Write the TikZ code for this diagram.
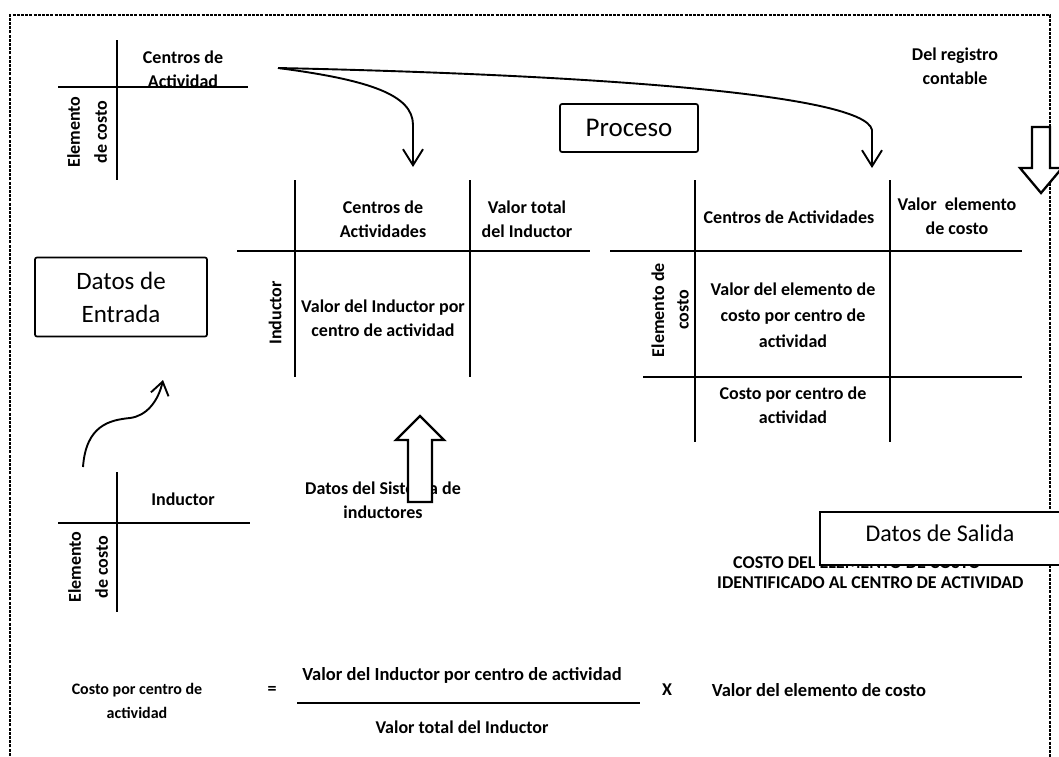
\documentclass[tikz,border=0pt]{standalone}
\usepackage{fontspec}
\setmainfont{Carlito}
\usetikzlibrary{arrows.meta}
\begin{document}
\begin{tikzpicture}[x=1pt,y=-1pt,
  grid/.style={line width=1.9pt},
  lbl/.style={font=\fontsize{18}{24.5}\selectfont\bfseries, align=center, inner sep=0pt},
  boxlbl/.style={font=\fontsize{25}{33}\selectfont, align=center},
  tbox/.style={draw, line width=1.7pt, fill=white, rounded corners=2pt, inner sep=0pt},
  conn/.style={line width=1.9pt, -{Straight Barb[length=16pt,width=20pt,line width=1.9pt]}},
  blockarr/.style={draw, line width=2.3pt, fill=white, line join=miter},
  border/.style={line width=1.6pt, dash pattern=on 3pt off 1.2pt}]
\useasboundingbox (0,0) rectangle (1059,756);

% outer dashed frame
\draw[border] (10,760) -- (10,15) -- (1050,15) -- (1050,760);

% ---- grid 1 (top-left)
\draw[grid] (117,40) -- (117,180);
\draw[grid] (58,87) -- (248,87);
\node[lbl] (g1h) at (183,69) {Centros de\\Actividad};
\node[lbl, rotate=90, font=\fontsize{18}{27}\selectfont\bfseries] (g1r) at (87,132) {Elemento\\de costo};

% ---- grid 2 (middle)
\draw[grid] (295,180) -- (295,377);
\draw[grid] (470,180) -- (470,377);
\draw[grid] (237,251) -- (590,251);
\node[lbl] (g2h1) at (383,219) {Centros de\\Actividades};
\node[lbl] (g2h2) at (527,219) {Valor total\\del Inductor};
\node[lbl] (g2b) at (383,318) {Valor del Inductor por\\centro de actividad};
\node[lbl, rotate=90] (g2r) at (275,313) {Inductor};

% ---- grid 3 (right)
\draw[grid] (695,180) -- (695,442);
\draw[grid] (890,180) -- (890,442);
\draw[grid] (610,251) -- (1022,251);
\draw[grid] (643,377) -- (1022,377);
\node[lbl] (g3h1) at (789,217) {Centros de Actividades};
\node[lbl] (g3h2) at (957,216) {Valor\ \ elemento\\de costo};
\node[lbl, font=\fontsize{18}{26}\selectfont\bfseries] (g3b) at (793,315) {Valor del elemento de\\costo por centro de\\actividad};
\node[lbl, rotate=90] (g3r) at (670,310) {Elemento de\\costo};
\node[lbl] (g3c) at (793,405) {Costo por centro de\\actividad};

% ---- labels top right
\node[lbl] (reg) at (955,66) {Del registro\\contable};
\node[tbox, boxlbl, font=\fontsize{27}{33}\selectfont, minimum width=138pt, minimum height=48pt] (proc) at (629,128) {Proceso};

% ---- right block arrow
\draw[blockarr] (1032,127) -- (1032,168) -- (1020,168) -- (1041,193) -- (1062,168) -- (1050,168) -- (1050,127) -- cycle;

% ---- curved connectors
\coordinate (src) at (278,68);
\coordinate (t1) at (413,167);
\coordinate (t2) at (872,168);
\draw[conn] (src) .. controls (370,80) and (413,95) .. (413,125) -- (t1);
\draw[conn] (src) .. controls (560,74) and (865,92) .. (872,130) -- (t2);

% ---- Datos de Entrada
\node[tbox, boxlbl, minimum width=172pt, minimum height=79pt] (ent) at (121,297) {Datos de\\Entrada};

% ---- wavy arrow
\coordinate (ws) at (83,467);
\coordinate (wt) at (163,380);
\draw[line width=1.9pt, -{Straight Barb[length=13pt,width=18pt,line width=1.9pt]}] (ws) .. controls (86,425) and (110,420) .. (130,418) .. controls (146,416) and (158,402) .. (wt);

% ---- grid 4 (bottom-left)
\draw[grid] (117,472) -- (117,612);
\draw[grid] (58,523) -- (250,523);
\node[lbl] (g4h) at (183,499) {Inductor};
\node[lbl, rotate=90, font=\fontsize{18}{27}\selectfont\bfseries] (g4r) at (88,567) {Elemento\\de costo};

% ---- Datos del sistema de inductores + block arrow
\node[lbl] (sis) at (383,500) {Datos del Sistema de\\inductores};
\draw[blockarr] (408,502) -- (408,440) -- (396,440) -- (420,416) -- (444,440) -- (432,440) -- (432,502) -- cycle;

% ---- Datos de salida
\node[lbl, anchor=west] (cs1) at (733,563) {COSTO DEL ELEMENTO DE COSTO};
\node[lbl, anchor=west] (cs2) at (717,583) {IDENTIFICADO AL CENTRO DE ACTIVIDAD};
\draw[line width=1.7pt, fill=white] (820,512) rectangle (1062,565);
\node[boxlbl, font=\fontsize{24}{30}\selectfont, inner sep=0pt] (sal) at (940,533) {Datos de Salida};

% ---- formula
\node[lbl, font=\fontsize{16}{24}\selectfont\bfseries] (fl) at (137,701) {Costo por centro de\\actividad};
\node[lbl] (eq) at (272,690) {=};
\node[lbl, font=\fontsize{18.5}{24}\selectfont\bfseries] (num) at (462,675) {Valor del Inductor por centro de actividad};
\coordinate (fa) at (297,703);
\coordinate (fb) at (640,703);
\draw[line width=1.9pt] (fa) -- (fb);
\node[lbl] (den) at (462,727) {Valor total del Inductor};
\node[lbl] (times) at (667,690) {X};
\node[lbl, font=\fontsize{18.5}{24}\selectfont\bfseries] (ve) at (819,690) {Valor del elemento de costo};
\end{tikzpicture}
\end{document}
